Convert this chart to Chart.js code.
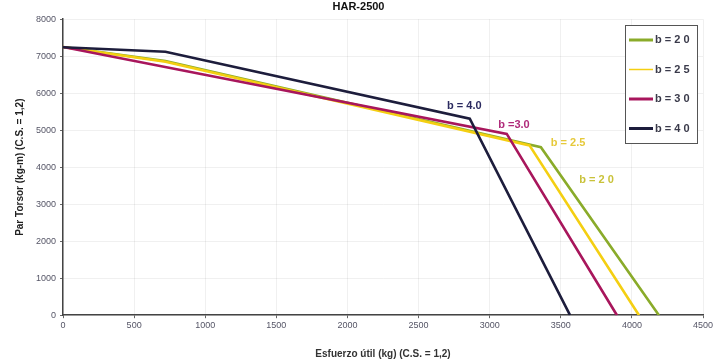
<!DOCTYPE html>
<html>
<head>
<meta charset="utf-8">
<script src="https://cdn.jsdelivr.net/npm/chart.js@4"></script>
<style>
  html, body { margin: 0; padding: 0; background: #fff; }
  #wrap { position: relative; width: 716px; height: 360px; }
</style>
</head>
<body>
<div id="wrap"><canvas id="c" width="716" height="360"></canvas></div>
<script>
// HAR-2500: par torsor vs esfuerzo útil, una curva por ancho b.
const seriesLabels = ["b = 2 0", "b = 2 5", "b = 3 0", "b = 4 0"];
const seriesColors = ["#8aab2a", "#f4cf12", "#a8165c", "#1d1d3c"];

const b20 = [{ x: 0, y: 7250 }, { x: 720, y: 6870 }, { x: 3360, y: 4540 }, { x: 4190, y: 0 }];
const b25 = [{ x: 0, y: 7250 }, { x: 720, y: 6850 }, { x: 3280, y: 4590 }, { x: 4050, y: 0 }];
const b30 = [{ x: 0, y: 7250 }, { x: 3120, y: 4900 }, { x: 3895, y: 0 }];
const b40 = [{ x: 0, y: 7240 }, { x: 720, y: 7120 }, { x: 2860, y: 5310 }, { x: 3565, y: 0 }];

// etiquetas sobre las curvas: [texto, x, y, color]
const curveNotes = [
  ["b = 4.0", 2700, 5650, "#2b2a60"],
  ["b =3.0", 3060, 5150, "#b02a7a"],
  ["b = 2.5", 3430, 4650, "#e6c93a"],
  ["b = 2 0", 3630, 3650, "#c9c23a"],
];

const AXIS_TEXT = "#555566";
const GRID = "rgba(0,0,0,0.06)";
const FONT = "'Liberation Sans', Arial, sans-serif";

const notesPlugin = {
  id: "notes",
  afterDatasetsDraw(chart) {
    const { ctx, scales } = chart;
    ctx.save();
    ctx.font = "bold 11px " + FONT;
    ctx.textBaseline = "middle";
    curveNotes.forEach(([t, x, y, col]) => {
      ctx.fillStyle = col;
      ctx.fillText(t, scales.x.getPixelForValue(x), scales.y.getPixelForValue(y));
    });
    ctx.restore();
  },
  afterDraw(chart) {
    // leyenda en recuadro dentro del área del gráfico
    const { ctx } = chart;
    const bx = 625, by = 25, bw = 72, bh = 118;
    ctx.save();
    ctx.fillStyle = "#fff";
    ctx.fillRect(bx, by, bw, bh);
    ctx.strokeStyle = "#555";
    ctx.lineWidth = 1;
    ctx.strokeRect(bx + 0.5, by + 0.5, bw, bh);
    ctx.font = "bold 11px " + FONT;
    ctx.textBaseline = "middle";
    seriesLabels.forEach((lab, i) => {
      const y = by + 15 + i * 29.5;
      ctx.strokeStyle = seriesColors[i];
      ctx.lineWidth = i === 1 ? 1.5 : 3;
      ctx.beginPath();
      ctx.moveTo(bx + 4, y);
      ctx.lineTo(bx + 28, y);
      ctx.stroke();
      ctx.fillStyle = "#3a3a4a";
      ctx.fillText(lab, bx + 30, y);
    });
    ctx.restore();
  },
};

const datasets = [b20, b25, b30, b40].map((d, i) => ({
  label: seriesLabels[i],
  data: d,
  borderColor: seriesColors[i],
  backgroundColor: seriesColors[i],
  borderWidth: 2.6,
  pointRadius: 0,
  tension: 0,
  order: 3 - i,
}));

new Chart(document.getElementById("c").getContext("2d"), {
  type: "line",
  data: { datasets },
  options: {
    responsive: false,
    animation: false,
    layout: { padding: { top: 0, right: 13, left: 14, bottom: 0 } },
    scales: {
      x: {
        type: "linear",
        min: 0,
        max: 4500,
        ticks: {
          stepSize: 500,
          color: AXIS_TEXT,
          font: { size: 9, family: FONT },
          padding: 2,
          callback: (v) => String(v),
        },
        grid: { color: GRID, tickColor: "#666", tickLength: 3 },
        border: { color: "#444", width: 1.5 },
        title: {
          display: true,
          text: "Esfuerzo útil (kg) (C.S. = 1,2)",
          color: "#333",
          font: { size: 10, weight: "bold", family: FONT },
          padding: { top: 15, bottom: 0 },
        },
      },
      y: {
        min: 0,
        max: 8000,
        ticks: {
          stepSize: 1000,
          color: AXIS_TEXT,
          font: { size: 9, family: FONT },
          padding: 4,
          callback: (v) => String(v),
        },
        grid: { color: GRID, tickColor: "#666", tickLength: 3 },
        border: { color: "#444", width: 1.5 },
        title: {
          display: true,
          text: "Par Torsor (kg-m) (C.S. = 1,2)",
          color: "#222",
          font: { size: 10, weight: "bold", family: FONT },
          padding: { top: 0, bottom: 6 },
        },
      },
    },
    plugins: {
      legend: { display: false },
      tooltip: { enabled: false },
      title: {
        display: true,
        text: "HAR-2500",
        color: "#111",
        font: { size: 11, weight: "bold", family: FONT },
        padding: { top: 0, bottom: 6 },
      },
    },
  },
  plugins: [notesPlugin],
});
</script>
</body>
</html>
